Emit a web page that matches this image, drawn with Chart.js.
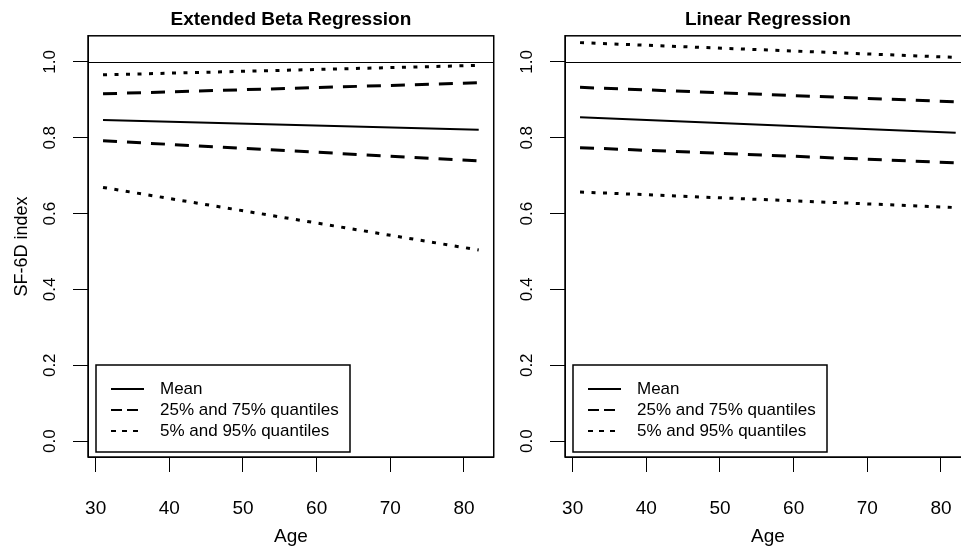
<!DOCTYPE html>
<html>
<head>
<meta charset="utf-8">
<title>SF-6D index by age</title>
<script src="https://cdn.jsdelivr.net/npm/chart.js@4.4.1/dist/chart.umd.min.js"></script>
<style>
  html, body { margin: 0; padding: 0; background: #fff; overflow: hidden; width: 961px; height: 546px; }
  .panel { position: absolute; top: 0; width: 500px; height: 546px; }
</style>
</head>
<body>
<div class="panel" style="left:0"><canvas id="beta-chart"></canvas></div>
<div class="panel" style="left:477px"><canvas id="linear-chart"></canvas></div>
<script>
// ages at the two ends of each fitted line
const AGES = [31, 82];

// Extended beta regression
const BETA_MEAN = [0.847, 0.821];
const BETA_Q25 = [0.792, 0.739];
const BETA_Q75 = [0.916, 0.945];
const BETA_Q05 = [0.669, 0.504];
const BETA_Q95 = [0.966, 0.991];

// Linear regression
const LINEAR_MEAN = [0.854, 0.813];
const LINEAR_Q25 = [0.774, 0.734];
const LINEAR_Q75 = [0.933, 0.895];
const LINEAR_Q05 = [0.657, 0.616];
const LINEAR_Q95 = [1.051, 1.012];

const X_TICKS = [30, 40, 50, 60, 70, 80];
const Y_TICKS = [0, 0.2, 0.4, 0.6, 0.8, 1.0];
const REFERENCE_LEVEL = 1.0;
const LEGEND_LABELS = ['Mean', '25% and 75% quantiles', '5% and 95% quantiles'];

const FONT = 'Liberation Sans, Arial, Helvetica, sans-serif';
const SOLID = [];
const DASHED = [14, 10];
const DOTTED = [4, 7.5];

function toPoints(values) {
  return AGES.map((age, i) => ({ x: age, y: values[i] }));
}

function lineDataset(values, dash, width) {
  return {
    data: toPoints(values),
    borderColor: '#000',
    borderWidth: width,
    borderDash: dash,
    pointRadius: 0,
    fill: false,
    tension: 0,
  };
}

// box around the plot, the horizontal line at 1.0 and the legend box
const framePlugin = {
  id: 'frame',
  afterDatasetsDraw(chart) {
    const { ctx, chartArea: area, scales } = chart;
    ctx.save();
    ctx.strokeStyle = '#000';
    ctx.lineWidth = 1;
    ctx.setLineDash([]);
    const yRef = Math.round(scales.y.getPixelForValue(REFERENCE_LEVEL)) + 0.5;
    ctx.beginPath();
    ctx.moveTo(area.left, yRef);
    ctx.lineTo(area.right, yRef);
    ctx.stroke();
    ctx.lineWidth = 1.5;
    ctx.strokeRect(area.left, area.top, area.right - area.left, area.bottom - area.top);

    const boxLeft = area.left + 8;
    const boxTop = area.bottom - 92;
    ctx.fillStyle = '#fff';
    ctx.fillRect(boxLeft, boxTop, 254, 87);
    ctx.lineWidth = 1.5;
    ctx.strokeRect(boxLeft, boxTop, 254, 87);

    const samples = [
      { dash: SOLID, length: 33 },
      { dash: [11, 5], length: 27 },
      { dash: [5, 6], length: 28 },
    ];
    ctx.font = `17px ${FONT}`;
    ctx.textBaseline = 'middle';
    ctx.fillStyle = '#000';
    LEGEND_LABELS.forEach((label, i) => {
      const y = boxTop + 24 + i * 21;
      ctx.lineWidth = 2;
      ctx.setLineDash(samples[i].dash);
      ctx.beginPath();
      ctx.moveTo(boxLeft + 15, y);
      ctx.lineTo(boxLeft + 15 + samples[i].length, y);
      ctx.stroke();
      ctx.fillText(label, boxLeft + 64, y);
    });
    ctx.restore();
  },
};

function buildChart(canvasId, title, series, showYTitle) {
  const [mean, q25, q75, q05, q95] = series;
  return new Chart(document.getElementById(canvasId), {
    type: 'line',
    data: {
      datasets: [
        lineDataset(mean, SOLID, 2),
        lineDataset(q25, DASHED, 3),
        lineDataset(q75, DASHED, 3),
        lineDataset(q05, DOTTED, 3),
        lineDataset(q95, DOTTED, 3),
      ],
    },
    options: {
      responsive: true,
      maintainAspectRatio: false,
      animation: false,
      layout: { padding: { left: 0, right: 6, top: 0, bottom: 0 } },
      plugins: {
        legend: { display: false },
        tooltip: { enabled: false },
        title: {
          display: true,
          text: title,
          fullSize: false,
          color: '#000',
          font: { family: FONT, size: 19, weight: 'bold' },
          padding: { top: 8, bottom: 5 },
        },
      },
      scales: {
        x: {
          type: 'linear',
          min: 28.96,
          max: 84.04,
          afterBuildTicks: (scale) => { scale.ticks = X_TICKS.map((v) => ({ value: v })); },
          afterFit: (scale) => { scale.height = 89; },
          ticks: {
            color: '#000',
            font: { family: FONT, size: 19 },
            padding: 25,
            maxRotation: 0,
            callback: (v) => String(v),
          },
          grid: { drawOnChartArea: false, drawTicks: true, tickLength: 15, color: '#000', lineWidth: 1 },
          border: { display: true, color: '#000', width: 1 },
          title: {
            display: true,
            text: 'Age',
            color: '#000',
            font: { family: FONT, size: 19 },
            padding: { top: 0, bottom: -2 },
          },
        },
        y: {
          type: 'linear',
          min: -0.042,
          max: 1.069,
          afterBuildTicks: (scale) => { scale.ticks = Y_TICKS.map((v) => ({ value: v })); },
          afterFit: (scale) => { scale.width = 88; },
          ticks: {
            color: '#000',
            font: { family: FONT, size: 17 },
            padding: 11,
            minRotation: 90,
            maxRotation: 90,
            crossAlign: 'center',
            callback: (v) => v.toFixed(1),
          },
          grid: { drawOnChartArea: false, drawTicks: true, tickLength: 15, color: '#000', lineWidth: 1 },
          border: { display: true, color: '#000', width: 1 },
          title: {
            display: showYTitle,
            text: 'SF-6D index',
            color: '#000',
            font: { family: FONT, size: 18 },
            padding: { top: 11, bottom: 0 },
          },
        },
      },
    },
    plugins: [framePlugin],
  });
}

buildChart('beta-chart', 'Extended Beta Regression',
  [BETA_MEAN, BETA_Q25, BETA_Q75, BETA_Q05, BETA_Q95], true);
buildChart('linear-chart', 'Linear Regression',
  [LINEAR_MEAN, LINEAR_Q25, LINEAR_Q75, LINEAR_Q05, LINEAR_Q95], false);
</script>
</body>
</html>
